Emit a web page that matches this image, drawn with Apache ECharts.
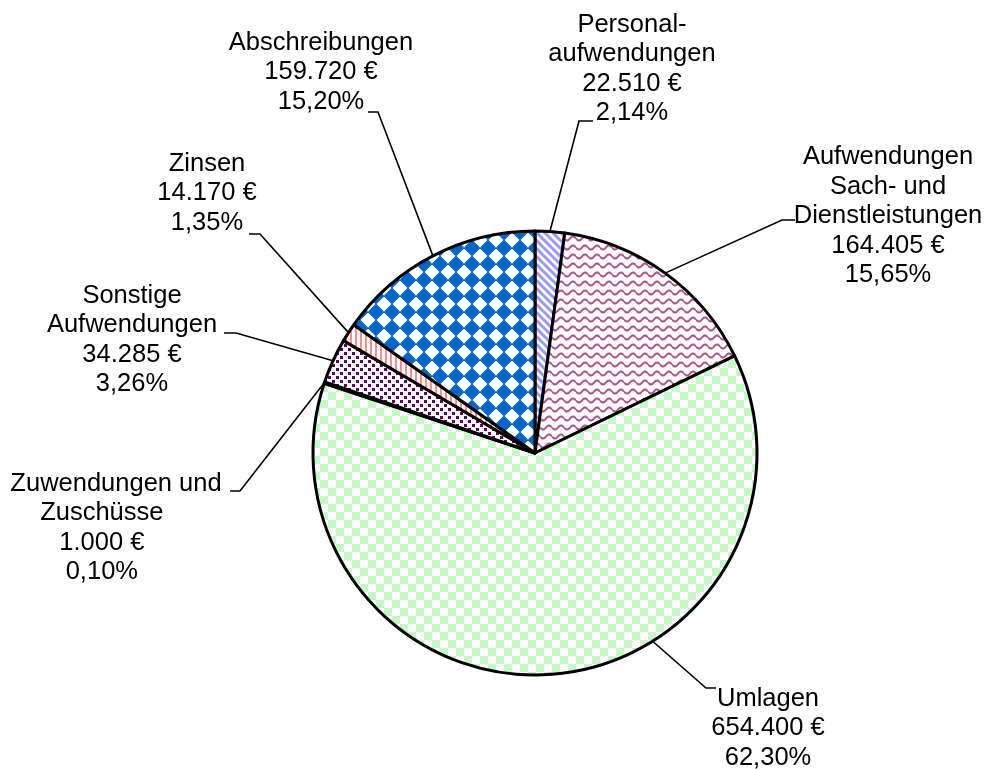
<!DOCTYPE html>
<html>
<head>
<meta charset="utf-8">
<script src="https://cdn.jsdelivr.net/npm/echarts@6/dist/echarts.min.js"></script>
<style>
  html, body { margin: 0; padding: 0; background: #fff; }
  #main { width: 991px; height: 769px; }
</style>
</head>
<body>
<div id="main"></div>
<script>
// Daten (im Uhrzeigersinn ab 12 Uhr)
var names = ['Personal-\naufwendungen', 'Aufwendungen\nSach- und\nDienstleistungen', 'Umlagen',
  'Zuwendungen und\nZuschüsse', 'Sonstige\nAufwendungen', 'Zinsen', 'Abschreibungen'];
var values = [22510, 164405, 654400, 1000, 34285, 14170, 159720];
var pctLabels = ['2,14%', '15,65%', '62,30%', '0,10%', '3,26%', '1,35%', '15,20%'];

// Lage der Beschriftungen (Mitte des Textblocks) und Ende der Führungslinie [x, y, Stummel]
var labelPos = [[632, 69], [888, 216], [768, 728], [116, 528], [132, 340], [207, 193], [321, 72]];
var leaderEnd = [[593, 121, -14], [795, 220, -13], [716, 688, -10], [230, 491, 10], [224, 333, 12], [249, 234, 11], [368, 112, 10]];
var leaderAngle = [null, null, 148, null, null, null, null]; // Grad ab 12 Uhr, sonst Segmentmitte
var linePad = [0, 0, 0, 4, 0, 0, 0];

var CX = 535, CY = 453, R = 222;

function fmtEuro(v) {
  return v.toString().replace(/\B(?=(\d{3})+(?!\d))/g, '.') + ' €';
}

function tile(w, h, draw) {
  var c = document.createElement('canvas');
  c.width = w; c.height = h;
  var ctx = c.getContext('2d');
  ctx.fillStyle = '#fff';
  ctx.fillRect(0, 0, w, h);
  draw(ctx);
  return { image: c, repeat: 'repeat' };
}

// Füllmuster wie im Original
var patterns = [
  tile(8, 8, function (ctx) { // diagonale Streifen
    ctx.strokeStyle = '#9999ff'; ctx.lineWidth = 3;
    for (var k = -8; k <= 8; k += 8) {
      ctx.beginPath(); ctx.moveTo(k - 2, -2); ctx.lineTo(k + 10, 10); ctx.stroke();
    }
  }),
  tile(12, 9, function (ctx) { // Wellen
    ctx.strokeStyle = '#b2548f'; ctx.lineWidth = 2;
    ctx.beginPath();
    for (var x = 0; x <= 12; x += 0.5) {
      var y = 4.5 + 2 * Math.sin(x / 12 * Math.PI * 2);
      if (x === 0) ctx.moveTo(x, y); else ctx.lineTo(x, y);
    }
    ctx.stroke();
  }),
  tile(16, 16, function (ctx) { // Schachbrett
    ctx.fillStyle = '#c6f7c6';
    ctx.fillRect(0, 0, 8, 8); ctx.fillRect(8, 8, 8, 8);
  }),
  tile(8, 8, function (ctx) {
    ctx.fillStyle = '#e7e7e7'; ctx.fillRect(0, 0, 8, 8);
  }),
  tile(8, 8, function (ctx) { // Punkte
    ctx.fillStyle = '#660066';
    ctx.fillRect(0, 0, 3, 3); ctx.fillRect(4, 4, 3, 3);
  }),
  tile(5, 1, function (ctx) { // senkrechte Streifen
    ctx.fillStyle = '#ff8a8a'; ctx.fillRect(0, 0, 2, 1);
  }),
  tile(16, 16, function (ctx) { // Rauten
    ctx.fillStyle = '#0066cc';
    ctx.beginPath();
    ctx.moveTo(8, -0.5); ctx.lineTo(16.5, 8); ctx.lineTo(8, 16.5); ctx.lineTo(-0.5, 8);
    ctx.closePath(); ctx.fill();
  })
];

var seriesData = values.map(function (v, i) {
  return { name: names[i], value: v, itemStyle: { color: patterns[i] } };
});

var myChart = echarts.init(document.getElementById('main'), null, { renderer: 'canvas' });
myChart.setOption({
  animation: false,
  series: [{
    type: 'pie',
    center: [CX, CY],
    radius: R,
    startAngle: 90,
    clockwise: true,
    avoidLabelOverlap: false,
    emphasis: { disabled: true },
    itemStyle: { borderColor: '#000', borderWidth: 3 },
    label: {
      show: true,
      color: '#000',
      fontFamily: '"Liberation Sans", Arial, sans-serif',
      fontSize: 25.5,
      lineHeight: 29.5,
      align: 'center',
      formatter: function (p) {
        var i = p.dataIndex;
        var pad = new Array(linePad[i] + 1).join('\u00a0');
        var lines = names[i].split('\n').concat([fmtEuro(values[i]), pctLabels[i]]);
        return lines.map(function (s, k) { return k === 0 ? s : s + pad; }).join('\n');
      }
    },
    labelLine: {
      show: true,
      length: 20,
      length2: 10,
      smooth: false,
      lineStyle: { color: '#000', width: 1.6 }
    },
    labelLayout: function (p) {
      var i = p.dataIndex;
      var start = p.labelLinePoints ? p.labelLinePoints[0] : [CX, CY];
      if (leaderAngle[i] != null) {
        var a = leaderAngle[i] * Math.PI / 180;
        start = [CX + R * Math.sin(a), CY - R * Math.cos(a)];
      }
      var e = leaderEnd[i];
      return {
        x: labelPos[i][0],
        y: labelPos[i][1],
        align: 'center',
        verticalAlign: 'middle',
        labelLinePoints: [start, [e[0] + e[2], e[1]], [e[0], e[1]]]
      };
    },
    data: seriesData
  }]
});
</script>
</body>
</html>
